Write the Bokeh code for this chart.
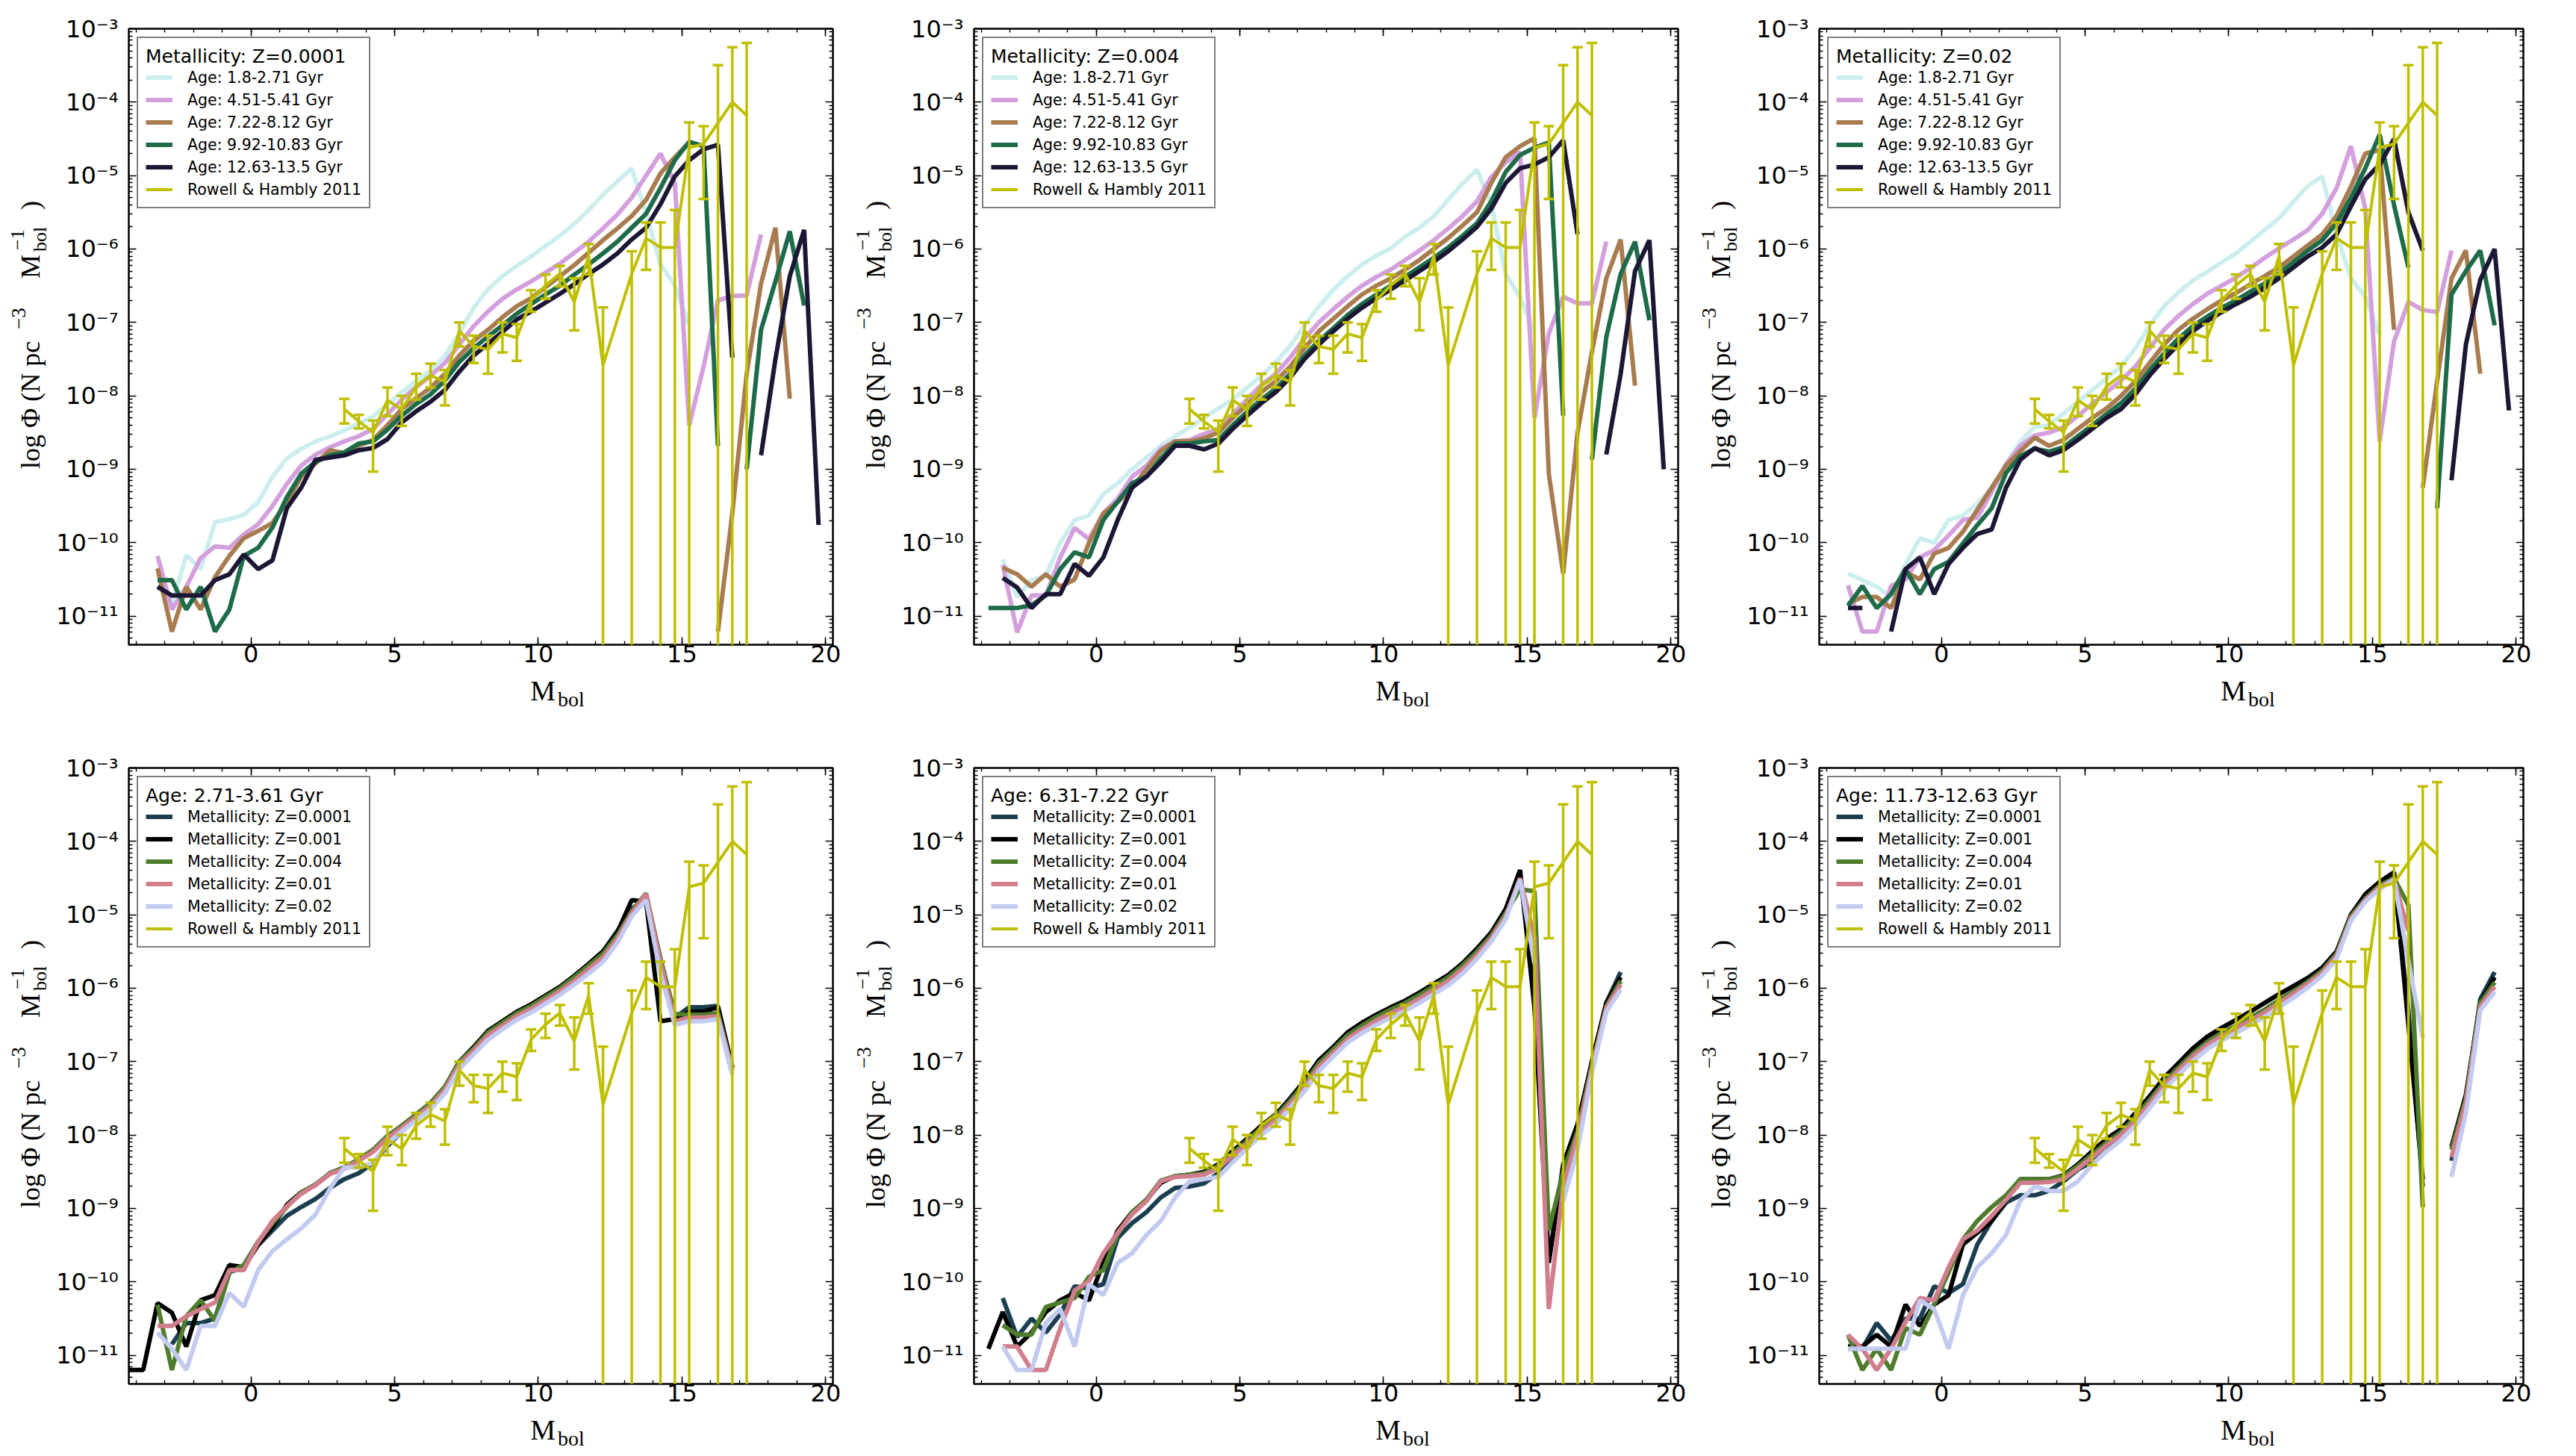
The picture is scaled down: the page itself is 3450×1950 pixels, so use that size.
import math
import numpy as np
from bokeh.plotting import figure
from bokeh.models import (Range1d, LinearAxis, LogAxis, FixedTicker, SingleIntervalTicker,
                          CustomJSTickFormatter, Legend, LegendItem, Label, ColumnDataSource)
from bokeh.layouts import row, column
from bokeh.embed import file_html
from bokeh.resources import INLINE

_ = None

# ---------------- data (log10 Phi) ----------------
MBOL = [-4.25, -3.75, -3.25, -2.75, -2.25, -1.75, -1.25, -0.75, -0.25, 0.25,
        0.75, 1.25, 1.75, 2.25, 2.75, 3.25, 3.75, 4.25, 4.75, 5.25,
        5.75, 6.25, 6.75, 7.25, 7.75, 8.25, 8.75, 9.25, 9.75, 10.25,
        10.75, 11.25, 11.75, 12.25, 12.75, 13.25, 13.75, 14.25, 14.75, 15.25,
        15.75, 16.25, 16.75, 17.25, 17.75, 18.25, 18.75, 19.25, 19.75]

AGE_LABELS = ["Age: 1.8-2.71 Gyr", "Age: 4.51-5.41 Gyr", "Age: 7.22-8.12 Gyr",
              "Age: 9.92-10.83 Gyr", "Age: 12.63-13.5 Gyr"]
Z_LABELS = ["Metallicity: Z=0.0001", "Metallicity: Z=0.001", "Metallicity: Z=0.004",
            "Metallicity: Z=0.01", "Metallicity: Z=0.02"]
TOP_TITLES = ["Metallicity: Z=0.0001", "Metallicity: Z=0.004", "Metallicity: Z=0.02"]
BOTTOM_TITLES = ["Age: 2.71-3.61 Gyr", "Age: 6.31-7.22 Gyr", "Age: 11.73-12.63 Gyr"]

# ---- top left: Z=0.0001 ----
T1_A1 = [_, _, _, -10.85, -10.17, -10.36, -9.72, -9.68, -9.62, -9.45,
         -9.1, -8.85, -8.72, -8.62, -8.55, -8.47, -8.38, -8.28, -8.12, -7.95,
         -7.8, -7.66, -7.45, -7.15, -6.8, -6.55, -6.37, -6.23, -6.1, -5.96,
         -5.82, -5.66, -5.47, -5.26, -5.08, -4.9, -5.52, -6.21, -6.5, -7.04,
         _, _, _, _, _, _, _, _, _]
T1_A2 = [_, _, -10.18, -10.91, -10.6, -10.21, -10.05, -10.07, -9.89, -9.75,
         -9.5, -9.2, -8.95, -8.8, -8.7, -8.62, -8.55, -8.45, -8.25, -8.05,
         -7.88, -7.73, -7.55, -7.3, -7.05, -6.85, -6.68, -6.55, -6.44, -6.32,
         -6.2, -6.05, -5.9, -5.72, -5.53, -5.3, -5.0, -4.7, -5.1, -8.4,
         -7.6, -6.7, -6.64, -6.63, -5.8, _, _, _, _]
T1_A3 = [_, _, -10.35, -11.21, -10.6, -10.91, -10.47, -10.18, -9.94, -9.84,
         -9.73, -9.45, -9.1, -8.92, -8.74, -8.78, -8.68, -8.6, -8.4, -8.18,
         -8.03, -7.89, -7.7, -7.45, -7.25, -7.1, -6.93, -6.78, -6.67, -6.52,
         -6.37, -6.22, -6.05, -5.88, -5.72, -5.55, -5.33, -4.97, -4.75, -4.55,
         _, -11.21, -9.6, -7.7, -6.47, -5.71, -8.04, _, _]
T1_A4 = [_, _, -10.51, -10.51, -10.91, -10.6, -11.21, -10.91, -10.18, -10.07,
         -9.79, -9.38, -9.06, -8.9, -8.81, -8.77, -8.65, -8.62, -8.46, -8.27,
         -8.11, -7.98, -7.79, -7.54, -7.35, -7.19, -7.04, -6.88, -6.75, -6.62,
         -6.5, -6.35, -6.21, -6.06, -5.9, -5.71, -5.52, -5.17, -4.79, -4.54,
         -4.6, -8.68, _, -9.0, -7.1, -6.44, -5.76, -6.77, _]
T1_A5 = [_, _, -10.6, -10.72, -10.72, -10.72, -10.51, -10.43, -10.16, -10.36,
         -10.24, -9.53, -9.25, -8.87, -8.84, -8.81, -8.74, -8.71, -8.59, -8.36,
         -8.21, -8.08, -7.92, -7.67, -7.45, -7.29, -7.13, -6.96, -6.85, -6.73,
         -6.61, -6.48, -6.34, -6.21, -6.06, -5.87, -5.71, -5.39, -5.01, -4.79,
         -4.64, -4.58, -7.48, _, -8.81, -7.5, -6.37, -5.74, -9.76]

# ---- top middle: Z=0.004 ----
T2_A1 = [_, _, -10.23, -10.74, -10.51, -10.45, -10.0, -9.69, -9.63, -9.34,
         -9.19, -9.0, -8.84, -8.68, -8.55, -8.43, -8.3, -8.17, -8.05, -7.89,
         -7.73, -7.54, -7.32, -7.04, -6.78, -6.56, -6.37, -6.21, -6.09, -5.99,
         -5.83, -5.71, -5.55, -5.33, -5.11, -4.92, -5.39, -6.34, -6.66, -7.13,
         _, _, _, _, _, _, _, _, _]
T2_A2 = [_, _, -10.3, -11.22, -10.72, -10.72, -10.2, -9.8, -9.95, -9.6,
         -9.4, -9.1, -8.95, -8.72, -8.62, -8.6, -8.52, -8.45, -8.25, -8.05,
         -7.85, -7.7, -7.48, -7.22, -7.0, -6.82, -6.65, -6.5, -6.38, -6.28,
         -6.15, -6.02, -5.88, -5.72, -5.55, -5.35, -5.02, -4.82, -4.68, -8.3,
         -7.15, -6.65, -6.74, -6.74, -5.9, _, _, _, _]
T2_A3 = [_, _, -10.34, -10.43, -10.6, -10.43, -10.6, -10.5, -10.0, -9.6,
         -9.45, -9.25, -9.0, -8.75, -8.62, -8.62, -8.58, -8.5, -8.3, -8.12,
         -7.95, -7.8, -7.6, -7.35, -7.12, -6.95, -6.78, -6.62, -6.5, -6.4,
         -6.28, -6.15, -6.0, -5.85, -5.68, -5.5, -5.1, -4.75, -4.6, -4.49,
         -9.06, -10.42, -8.5, -7.4, -6.4, -5.87, -7.86, _, _]
T2_A4 = [_, -10.89, -10.89, -10.89, -10.85, -10.72, -10.36, -10.13, -10.2, -9.69,
         -9.44, -9.19, -9.1, -8.85, -8.65, -8.65, -8.62, -8.6, -8.4, -8.22,
         -8.05, -7.9, -7.7, -7.45, -7.25, -7.08, -6.9, -6.75, -6.62, -6.5,
         -6.38, -6.25, -6.12, -5.98, -5.82, -5.65, -5.35, -4.95, -4.72, -4.62,
         -4.55, -8.27, _, -8.87, -7.2, -6.34, -5.9, -6.97, _]
T2_A5 = [_, _, -10.48, -10.61, -10.89, -10.7, -10.7, -10.29, -10.45, -10.2,
         -9.69, -9.25, -9.1, -8.9, -8.68, -8.68, -8.73, -8.65, -8.45, -8.27,
         -8.1, -7.95, -7.75, -7.5, -7.3, -7.12, -6.95, -6.8, -6.67, -6.55,
         -6.43, -6.3, -6.17, -6.03, -5.87, -5.7, -5.45, -5.1, -4.9, -4.85,
         -4.75, -4.52, -5.8, _, -8.8, -7.7, -6.3, -5.88, -9.0]

# ---- top right: Z=0.02 ----
T3_A1 = [_, _, -10.42, -10.51, -10.6, -10.74, -10.3, -9.94, -10.0, -9.69,
         -9.63, -9.47, -9.25, -8.93, -8.62, -8.42, -8.4, -8.24, -8.08, -7.92,
         -7.76, -7.6, -7.35, -7.04, -6.78, -6.59, -6.43, -6.31, -6.18, -6.06,
         -5.9, -5.74, -5.58, -5.36, -5.14, -5.01, -5.8, -6.4, -6.65, -7.17,
         _, _, _, _, _, _, _, _, _]
T3_A2 = [_, _, -10.58, -11.21, -11.21, -10.59, -10.5, -10.2, -10.1, -9.9,
         -9.69, -9.66, -9.31, -8.93, -8.68, -8.54, -8.5, -8.43, -8.27, -8.11,
         -7.95, -7.79, -7.6, -7.35, -7.1, -6.91, -6.75, -6.61, -6.5, -6.39,
         -6.26, -6.12, -5.99, -5.87, -5.74, -5.52, -5.17, -4.6, -5.45, -8.62,
         -7.26, -6.72, -6.83, -6.86, -6.02, _, _, _, _]
T3_A3 = [_, _, -10.83, -10.74, -10.74, -10.89, -10.4, -10.5, -10.15, -10.07,
         -9.85, -9.55, -9.25, -8.95, -8.75, -8.57, -8.68, -8.6, -8.45, -8.3,
         -8.17, -8.0, -7.8, -7.55, -7.3, -7.1, -6.95, -6.82, -6.7, -6.6,
         -6.48, -6.37, -6.25, -6.1, -5.95, -5.8, -5.55, -5.15, -4.7, -4.65,
         -7.1, _, -9.25, -7.8, -6.4, -6.02, -7.7, _, _]
T3_A4 = [_, _, -10.86, -10.59, -10.89, -10.7, -10.36, -10.7, -10.36, -10.26,
         -10.01, -9.76, -9.53, -9.05, -8.82, -8.72, -8.76, -8.7, -8.55, -8.4,
         -8.25, -8.1, -7.9, -7.65, -7.42, -7.22, -7.05, -6.92, -6.8, -6.7,
         -6.58, -6.47, -6.33, -6.18, -6.02, -5.88, -5.65, -5.3, -4.9, -4.44,
         -5.4, -6.25, _, -9.53, -6.62, -6.3, -6.02, -7.04, _]
T3_A5 = [_, _, -10.89, -10.89, _, -11.21, -10.36, -10.2, -10.7, -10.29,
         -10.07, -9.88, -9.82, -9.25, -8.87, -8.71, -8.81, -8.74, -8.6, -8.45,
         -8.3, -8.18, -7.98, -7.72, -7.5, -7.3, -7.12, -6.98, -6.86, -6.75,
         -6.65, -6.53, -6.4, -6.25, -6.1, -5.98, -5.8, -5.42, -5.05, -4.85,
         -4.5, -5.5, -6.02, _, -9.15, -7.3, -6.42, -6.0, -8.2]

# ---- bottom left: Age 2.71-3.61 Gyr ----
B1_Z1 = [_, _, _, -10.85, -10.56, -10.56, -10.5, -9.87, -9.8, -9.5,
         -9.3, -9.1, -8.98, -8.87, -8.72, -8.6, -8.52, -8.38, -8.15, -7.95,
         -7.77, -7.6, -7.38, -7.02, -6.82, -6.6, -6.47, -6.34, -6.24, -6.12,
         -6.0, -5.84, -5.67, -5.5, -5.22, -4.92, -4.77, -5.6, -6.4, -6.26,
         -6.26, -6.24, -7.08, _, _, _, _, _, _]
B1_Z2 = [-11.2, -11.2, -10.29, -10.42, -10.88, -10.25, -10.18, -9.77, -9.8, -9.49,
         -9.25, -8.95, -8.78, -8.68, -8.52, -8.44, -8.34, -8.22, -8.02, -7.88,
         -7.72, -7.57, -7.35, -7.0, -6.8, -6.58, -6.45, -6.32, -6.22, -6.1,
         -5.98, -5.83, -5.67, -5.5, -5.24, -4.8, -4.82, -6.45, -6.42, -6.32,
         -6.32, -6.26, -7.08, _, _, _, _, _, _]
B1_Z3 = [_, _, -10.31, -11.2, -10.47, -10.25, -10.53, -9.87, -9.77, -9.45,
         -9.2, -8.98, -8.78, -8.67, -8.52, -8.44, -8.33, -8.2, -8.01, -7.87,
         -7.72, -7.56, -7.34, -7.0, -6.82, -6.6, -6.47, -6.34, -6.24, -6.12,
         -6.0, -5.85, -5.69, -5.53, -5.28, -4.95, -4.71, -5.6, -6.35, -6.36,
         -6.36, -6.34, -7.1, _, _, _, _, _, _]
B1_Z4 = [_, _, -10.6, -10.6, -10.47, -10.37, -10.28, -9.84, -9.84, -9.46,
         -9.17, -8.97, -8.8, -8.68, -8.53, -8.46, -8.35, -8.23, -8.04, -7.9,
         -7.75, -7.6, -7.38, -7.04, -6.85, -6.64, -6.51, -6.38, -6.28, -6.16,
         -6.04, -5.9, -5.74, -5.58, -5.32, -4.98, -4.72, -5.65, -6.45, -6.4,
         -6.4, -6.38, -7.12, _, _, _, _, _, _]
B1_Z5 = [_, _, -10.69, -10.91, -11.2, -10.6, -10.6, -10.15, -10.34, -9.84,
         -9.58, -9.42, -9.27, -9.08, -8.73, -8.44, -8.44, -8.38, -8.12, -7.95,
         -7.8, -7.65, -7.43, -7.1, -6.9, -6.7, -6.56, -6.43, -6.33, -6.21,
         -6.09, -5.95, -5.8, -5.64, -5.38, -5.02, -4.8, -5.8, -6.5, -6.45,
         -6.45, -6.42, -7.18, _, _, _, _, _, _]

# ---- bottom middle: Age 6.31-7.22 Gyr ----
B2_Z1 = [_, _, -10.22, -10.75, -10.5, -10.69, -10.44, -10.06, -10.09, -10.03,
         -9.4, -9.2, -9.05, -8.85, -8.72, -8.7, -8.66, -8.52, -8.3, -8.12,
         -7.95, -7.8, -7.57, -7.32, -7.05, -6.86, -6.67, -6.54, -6.42, -6.32,
         -6.23, -6.12, -6.0, -5.87, -5.7, -5.49, -5.26, -4.96, -4.45, -6.0,
         -9.7, -8.45, -7.9, -7.0, -6.2, -5.78, _, _, _]
B2_Z2 = [_, -10.91, -10.41, -10.88, -10.69, -10.41, -10.25, -10.15, -10.25, -9.74,
         -9.3, -9.05, -8.88, -8.65, -8.56, -8.54, -8.5, -8.4, -8.22, -8.05,
         -7.87, -7.72, -7.5, -7.26, -6.98, -6.8, -6.6, -6.47, -6.36, -6.26,
         -6.17, -6.06, -5.94, -5.82, -5.66, -5.46, -5.24, -4.92, -4.39, -6.26,
         -9.74, -8.4, -7.85, -7.0, -6.2, -5.85, _, _, _]
B2_Z3 = [_, _, -10.59, -10.72, -10.72, -10.34, -10.28, -10.22, -9.93, -9.84,
         -9.35, -9.05, -8.88, -8.62, -8.56, -8.54, -8.52, -8.42, -8.25, -8.08,
         -7.9, -7.75, -7.53, -7.3, -7.02, -6.83, -6.64, -6.51, -6.39, -6.29,
         -6.2, -6.09, -5.97, -5.85, -5.69, -5.5, -5.28, -4.98, -4.65, -4.68,
         -9.3, -8.5, -7.95, -7.05, -6.25, -5.9, _, _, _]
B2_Z4 = [_, _, -10.88, -10.88, -11.2, -11.2, -10.63, -10.12, -9.99, -9.61,
         -9.33, -9.08, -8.9, -8.63, -8.57, -8.56, -8.54, -8.45, -8.28, -8.12,
         -7.95, -7.79, -7.57, -7.35, -7.07, -6.88, -6.69, -6.56, -6.44, -6.34,
         -6.25, -6.14, -6.02, -5.9, -5.74, -5.55, -5.32, -5.02, -4.5, -5.31,
         -10.37, -8.7, -8.0, -7.1, -6.27, -5.95, _, _, _]
B2_Z5 = [_, _, -10.88, -11.2, -11.2, -10.56, -10.37, -10.88, -10.03, -10.18,
         -9.74, -9.61, -9.36, -9.17, -8.85, -8.63, -8.6, -8.57, -8.37, -8.18,
         -8.0, -7.85, -7.63, -7.4, -7.13, -6.93, -6.74, -6.61, -6.5, -6.4,
         -6.31, -6.2, -6.08, -5.96, -5.8, -5.6, -5.36, -5.06, -4.52, -5.66,
         _, -8.9, -8.2, -7.15, -6.32, -6.02, _, _, _]

# ---- bottom right: Age 11.73-12.63 Gyr ----
B3_Z1 = [_, _, -10.91, -10.91, -10.56, -10.8, -10.5, -10.5, -10.06, -10.15,
         -10.03, -9.49, -9.17, -8.92, -8.82, -8.82, -8.76, -8.63, -8.47, -8.36,
         -8.18, -8.02, -7.82, -7.6, -7.35, -7.15, -6.96, -6.8, -6.68, -6.58,
         -6.47, -6.36, -6.23, -6.1, -5.96, -5.78, -5.55, -5.0, -4.75, -4.6,
         -4.5, -6.3, -8.7, _, -8.35, -7.5, -6.15, -5.78, _]
B3_Z2 = [_, _, -10.88, -10.88, -10.72, -10.88, -10.31, -10.6, -10.31, -10.18,
         -9.49, -9.33, -9.17, -8.89, -8.6, -8.6, -8.6, -8.55, -8.4, -8.22,
         -8.05, -7.92, -7.7, -7.47, -7.22, -7.02, -6.82, -6.66, -6.54, -6.43,
         -6.32, -6.2, -6.08, -5.97, -5.86, -5.72, -5.5, -5.0, -4.72, -4.55,
         -4.42, -6.5, -8.6, _, -8.16, -7.45, -6.2, -5.85, _]
B3_Z3 = [_, _, -10.72, -11.2, -10.91, -11.2, -10.63, -10.72, -10.31, -9.87,
         -9.42, -9.17, -8.98, -8.82, -8.6, -8.6, -8.6, -8.56, -8.42, -8.26,
         -8.1, -7.96, -7.75, -7.52, -7.28, -7.08, -6.89, -6.73, -6.61, -6.51,
         -6.4, -6.29, -6.16, -6.04, -5.91, -5.76, -5.53, -5.02, -4.78, -4.6,
         -4.5, -4.87, -8.98, _, -8.2, -7.5, -6.2, -5.92, _]
B3_Z4 = [_, _, -10.72, -10.91, -11.2, -10.91, -10.55, -10.22, -10.25, -9.8,
         -9.42, -9.3, -9.1, -8.88, -8.65, -8.65, -8.64, -8.6, -8.46, -8.3,
         -8.14, -8.0, -7.8, -7.57, -7.32, -7.12, -6.93, -6.77, -6.65, -6.55,
         -6.44, -6.33, -6.2, -6.07, -5.94, -5.79, -5.56, -5.05, -4.8, -4.62,
         -4.52, -5.22, _, _, -8.3, -7.55, -6.25, -5.98, _]
B3_Z5 = [_, _, -10.91, -10.91, -10.91, -10.91, -10.91, -10.25, -10.37, -10.91,
         -10.18, -9.8, -9.61, -9.36, -8.89, -8.7, -8.76, -8.76, -8.63, -8.4,
         -8.22, -8.07, -7.87, -7.63, -7.38, -7.18, -6.99, -6.83, -6.71, -6.61,
         -6.5, -6.39, -6.26, -6.13, -5.99, -5.83, -5.6, -5.08, -4.82, -4.65,
         -4.52, -5.63, -6.67, _, -8.57, -7.7, -6.3, -6.05, _]

# ---- Rowell & Hambly 2011 (same in every panel); 0 = error reaching zero ----
RH_MBOL = [3.25, 3.75, 4.25, 4.75, 5.25, 5.75, 6.25, 6.75, 7.25, 7.75,
           8.25, 8.75, 9.25, 9.75, 10.25, 10.75, 11.25, 11.75, 12.25, 13.25,
           13.75, 14.25, 14.75, 15.25, 15.75, 16.25, 16.75, 17.25]
RH_PHI = [6.6e-9, 4.5e-9, 3.2e-9, 8.7e-9, 6.5e-9, 1.35e-8, 1.9e-8, 1.55e-8, 7.7e-8, 4.7e-8,
          4.3e-8, 7.0e-8, 6.2e-8, 2.0e-7, 3.2e-7, 4.6e-7, 1.9e-7, 8.0e-7, 2.6e-8, 4.6e-7,
          1.4e-6, 1.05e-6, 1.05e-6, 2.4e-5, 2.7e-5, 5.2e-5, 1.0e-4, 6.6e-5]
RH_HI = [9.1e-9, 5.5e-9, 4.6e-9, 1.3e-8, 1.0e-8, 2.0e-8, 2.75e-8, 2.25e-8, 1.0e-7, 6.6e-8,
         6.6e-8, 1.0e-7, 9.5e-8, 2.75e-7, 4.5e-7, 5.9e-7, 4.0e-7, 1.17e-6, 1.6e-7, 9.3e-7,
         2.3e-6, 2.3e-6, 3.4e-6, 5.3e-5, 4.7e-5, 3.2e-4, 5.6e-4, 6.4e-4]
RH_LO = [4.2e-9, 3.6e-9, 9.3e-10, 5.3e-9, 3.9e-9, 8.9e-9, 1.3e-8, 7.4e-9, 4.7e-8, 2.8e-8,
         2.0e-8, 3.9e-8, 3.0e-8, 1.4e-7, 2.1e-7, 3.1e-7, 7.8e-8, 4.5e-7, 0, 0,
         5.2e-7, 0, 0, 0, 4.8e-6, 0, 0, 0]

# ---------------- style ----------------
AGE_COLORS = ["#cdeeee", "#d49fdd", "#a97c50", "#1e6b49", "#1b1735"]
Z_COLORS = ["#1b3e4f", "#000000", "#4f7d2c", "#d17e8c", "#c2caf0"]
RH_COLOR = "#bfbf00"
RH_LABEL = "Rowell & Hambly 2011"

FRAME_W, FRAME_H = 943, 825
YLAB_W = 70                      # strip holding the rotated y label
M_LEFT, M_RIGHT, M_TOP, M_BOTTOM = 102, 17, 38, 38
MAIN_W = M_LEFT + FRAME_W + M_RIGHT
MAIN_H = M_TOP + FRAME_H + M_BOTTOM
TOP_ROW_H, BOTTOM_ROW_H = 990, 960

SUP_FMT = CustomJSTickFormatter(code="""
const sup = {"-": "⁻", "0": "⁰", "1": "¹", "2": "²", "3": "³", "4": "⁴",
             "5": "⁵", "6": "⁶", "7": "⁷", "8": "⁸", "9": "⁹"};
const e = Math.round(Math.log10(tick));
let s = "";
for (const c of String(e)) { s += sup[c]; }
return "10" + s;
""")
BLANK_FMT = CustomJSTickFormatter(code="return '';")

Y_MAJOR = [10.0 ** e for e in range(-11, -2)]
Y_MINOR = [k * 10.0 ** e for e in range(-12, -3) for k in range(2, 10)]


def style_axis(ax, labels):
    ax.axis_line_color = None
    ax.major_tick_in = 10
    ax.major_tick_out = 0
    ax.minor_tick_in = 5
    ax.minor_tick_out = 0
    ax.major_tick_line_color = "black"
    ax.minor_tick_line_color = "black"
    ax.major_tick_line_width = 1.6
    ax.minor_tick_line_width = 1.4
    ax.major_label_text_font = "DejaVu Sans"
    ax.major_label_text_font_size = "32px"
    ax.major_label_text_color = "black"
    if not labels:
        ax.major_label_text_font_size = "1px"


def serif_label(p, text, x, y, size, angle=0.0, align="left"):
    p.add_layout(Label(x=x, y=y, x_units="screen", y_units="screen", text=text,
                       angle=angle, text_font="Liberation Serif",
                       text_font_size=f"{size}px", text_align=align,
                       text_baseline="middle", text_color="black"))


def text_strip(w, h):
    f = figure(width=w, height=h, output_backend="svg", toolbar_location=None,
               min_border=0, x_axis_location=None, y_axis_location=None,
               background_fill_color="white", border_fill_color="white")
    f.outline_line_color = None
    f.xgrid.visible = False
    f.ygrid.visible = False
    return f


def make_panel(series, labels, colors, title):
    p = figure(frame_width=FRAME_W, frame_height=FRAME_H,
               x_range=Range1d(-4.25, 20.25), y_range=Range1d(10 ** -11.39, 1e-3),
               y_axis_type="log", output_backend="svg", toolbar_location=None,
               min_border_left=M_LEFT, min_border_right=M_RIGHT,
               min_border_top=M_TOP, min_border_bottom=M_BOTTOM,
               background_fill_color="white", border_fill_color="white")
    p.xgrid.visible = False
    p.ygrid.visible = False
    p.outline_line_color = "black"
    p.outline_line_width = 2.5

    p.xaxis[0].ticker = SingleIntervalTicker(interval=5, num_minor_ticks=5)
    p.yaxis[0].ticker = FixedTicker(ticks=Y_MAJOR, minor_ticks=Y_MINOR)
    p.yaxis[0].formatter = SUP_FMT
    style_axis(p.xaxis[0], True)
    style_axis(p.yaxis[0], True)
    p.xaxis[0].major_label_standoff = 0
    p.yaxis[0].major_label_standoff = 14
    top_ax = LinearAxis(ticker=SingleIntervalTicker(interval=5, num_minor_ticks=5), formatter=BLANK_FMT)
    right_ax = LogAxis(ticker=FixedTicker(ticks=Y_MAJOR, minor_ticks=Y_MINOR), formatter=BLANK_FMT)
    style_axis(top_ax, False)
    style_axis(right_ax, False)
    p.add_layout(top_ax, "above")
    p.add_layout(right_ax, "right")

    items = []
    for vals, lab, col in zip(series, labels, colors):
        ys = [10.0 ** v if v is not None else np.nan for v in vals]
        src = ColumnDataSource(dict(x=MBOL, y=ys))
        r = p.line("x", "y", source=src, line_color=col, line_width=6)
        items.append(LegendItem(label=lab, renderers=[r]))

    lo = [v if v > 0 else 1e-15 for v in RH_LO]
    p.segment(x0=RH_MBOL, y0=lo, x1=RH_MBOL, y1=RH_HI, line_color=RH_COLOR, line_width=3.5)
    p.scatter(x=RH_MBOL, y=RH_HI, marker="dash", size=14, line_color=RH_COLOR, line_width=3.5)
    lx = [m for m, v in zip(RH_MBOL, RH_LO) if v > 0]
    ly = [v for v in RH_LO if v > 0]
    p.scatter(x=lx, y=ly, marker="dash", size=14, line_color=RH_COLOR, line_width=3.5)
    r_rh = p.line(RH_MBOL, RH_PHI, line_color=RH_COLOR, line_width=4)
    items.append(LegendItem(label=RH_LABEL, renderers=[r_rh]))

    legend = Legend(items=items, location="top_left", title=title,
                    title_text_font="DejaVu Sans", title_text_font_size="25px",
                    title_text_font_style="normal", title_text_color="black",
                    title_standoff=0,
                    label_text_font="DejaVu Sans", label_text_font_size="20.5px",
                    label_text_color="black",
                    glyph_width=36, glyph_height=27, label_height=27,
                    label_width=232, label_standoff=20, spacing=3,
                    padding=10, margin=11,
                    border_line_color="black", border_line_width=2,
                    background_fill_color="white", background_fill_alpha=1.0)
    p.add_layout(legend)
    return p


def make_cell(series, labels, colors, title, row_h):
    main = make_panel(series, labels, colors, title)

    # y label strip: log Φ (N pc^-3 M_bol^-1), rotated, centred on the frame
    ylab = text_strip(YLAB_W, row_h)
    c = row_h - (M_TOP + FRAME_H / 2)
    a = math.pi / 2
    serif_label(ylab, "log Φ (N pc", 40, c - 177, 36, angle=a)
    serif_label(ylab, "−3", 24, c + 10, 27, angle=a)
    serif_label(ylab, "M", 40, c + 78, 36, angle=a)
    serif_label(ylab, "bol", 53, c + 114, 26, angle=a)
    serif_label(ylab, "−1", 23, c + 116, 26, angle=a)
    serif_label(ylab, ")", 40, c + 170, 36, angle=a)

    # x label strip: M_bol
    xh = row_h - MAIN_H
    xlab = text_strip(MAIN_W, xh)
    cx = M_LEFT + FRAME_W / 2
    serif_label(xlab, "M", cx - 2, xh - 23, 38, align="right")
    serif_label(xlab, "bol", cx + 1, xh - 35, 28, align="left")
    return row(ylab, column(main, xlab))


TOP_SERIES = [[T1_A1, T1_A2, T1_A3, T1_A4, T1_A5],
              [T2_A1, T2_A2, T2_A3, T2_A4, T2_A5],
              [T3_A1, T3_A2, T3_A3, T3_A4, T3_A5]]
BOTTOM_SERIES = [[B1_Z1, B1_Z2, B1_Z3, B1_Z4, B1_Z5],
                 [B2_Z1, B2_Z2, B2_Z3, B2_Z4, B2_Z5],
                 [B3_Z1, B3_Z2, B3_Z3, B3_Z4, B3_Z5]]

top_row = row(*[make_cell(s, AGE_LABELS, AGE_COLORS, t, TOP_ROW_H)
                for s, t in zip(TOP_SERIES, TOP_TITLES)])
bottom_row = row(*[make_cell(s, Z_LABELS, Z_COLORS, t, BOTTOM_ROW_H)
                   for s, t in zip(BOTTOM_SERIES, BOTTOM_TITLES)])
page = column(top_row, bottom_row)

with open("out.html", "w") as f:
    f.write(file_html(page, INLINE))
